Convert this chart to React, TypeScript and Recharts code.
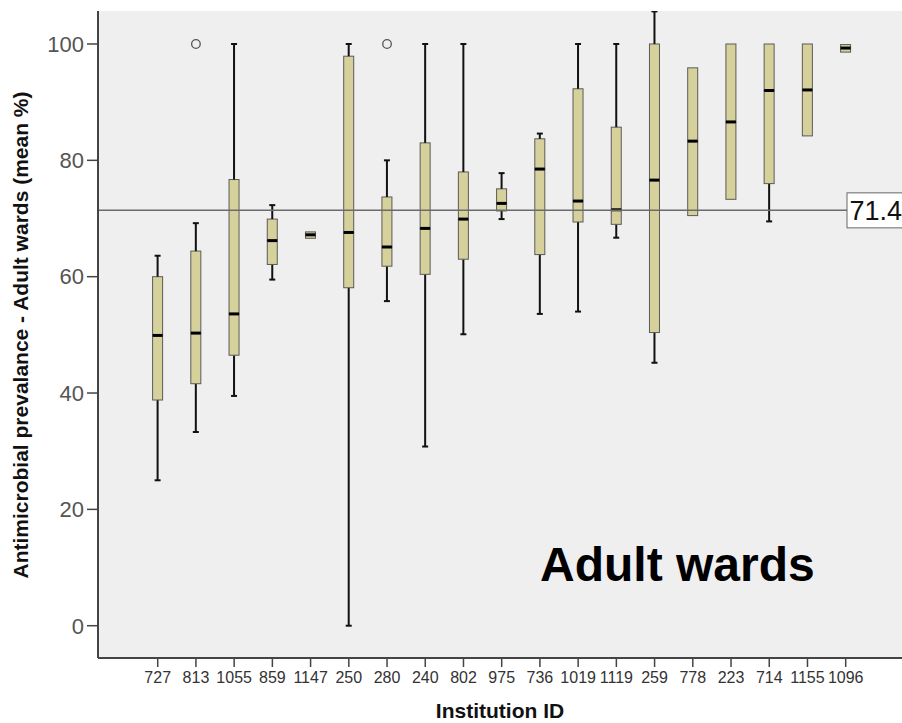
import React from 'react';
import {
  ComposedChart,
  Bar,
  Scatter,
  XAxis,
  YAxis,
  CartesianGrid,
  ReferenceLine,
} from 'recharts';

// institution ids, in the order they appear on the axis
const categories = ['727', '813', '1055', '859', '1147', '250', '280', '240', '802', '975', '736', '1019', '1119', '259', '778', '223', '714', '1155', '1096'];

// five-number summaries (% prevalence)
const whiskerLow = [25.0, 33.3, 39.5, 59.5, 66.6, 0, 55.8, 30.8, 50.1, 69.9, 53.6, 54.0, 66.7, 45.2, 70.5, 73.3, 69.5, 84.2, 98.6];
const q1 = [38.8, 41.6, 46.5, 62.1, 66.6, 58.1, 61.8, 60.4, 63.0, 71.3, 63.8, 69.4, 69.0, 50.4, 70.5, 73.3, 76.0, 84.2, 98.6];
const median = [49.9, 50.3, 53.6, 66.2, 67.2, 67.6, 65.1, 68.3, 69.9, 72.6, 78.5, 73.0, 71.5, 76.6, 83.3, 86.6, 92.0, 92.1, 99.3];
const q3 = [60.0, 64.4, 76.7, 69.9, 67.7, 97.9, 73.7, 83.0, 78.0, 75.1, 83.7, 92.3, 85.7, 100, 95.9, 100, 100, 100, 99.9];
const whiskerHigh = [63.6, 69.2, 100, 72.3, 67.7, 100, 80.0, 100, 100, 77.8, 84.6, 100, 100, 105.6, 95.9, 100, 100, 100, 99.9];
const outliers: (number | null)[] = [null, 100, null, null, null, null, 100, null, null, null, null, null, null, null, null, null, null, null, null];

const yTicks = [0, 20, 40, 60, 80, 100];
const overallMean = 71.4;

const data = categories.map((name, i) => ({
  name,
  base: whiskerLow[i],
  lowW: q1[i] - whiskerLow[i],
  lowBox: median[i] - q1[i],
  highBox: q3[i] - median[i],
  highW: whiskerHigh[i] - q3[i],
  outlier: outliers[i],
}));

const FONT = '"Liberation Sans", Arial, sans-serif';
const BOX_FILL = '#d6d19b';
const BOX_STROKE = '#5a5a5a';

const LowWhisker = (p: any) => {
  if (!p.height || p.height < 0.5) return <g />;
  const cx = p.x + p.width / 2;
  const bottom = p.y + p.height;
  return (
    <g>
      <line x1={cx} x2={cx} y1={p.y} y2={bottom} stroke="#111" strokeWidth={2} />
      <line x1={cx - 3} x2={cx + 3} y1={bottom} y2={bottom} stroke="#111" strokeWidth={2} />
    </g>
  );
};

const HighWhisker = (p: any) => {
  if (!p.height || p.height < 0.5) return <g />;
  const cx = p.x + p.width / 2;
  return (
    <g>
      <line x1={cx} x2={cx} y1={p.y} y2={p.y + p.height} stroke="#111" strokeWidth={2} />
      <line x1={cx - 3} x2={cx + 3} y1={p.y} y2={p.y} stroke="#111" strokeWidth={2} />
    </g>
  );
};

const LowBox = (p: any) => (
  <rect x={p.x} y={p.y} width={p.width} height={Math.max(p.height, 0)} fill={BOX_FILL} stroke={BOX_STROKE} strokeWidth={1} />
);

// upper half of the box; its bottom edge is the median
const HighBox = (p: any) => (
  <g>
    <rect x={p.x} y={p.y} width={p.width} height={Math.max(p.height, 0)} fill={BOX_FILL} stroke={BOX_STROKE} strokeWidth={1} />
    <line x1={p.x} x2={p.x + p.width} y1={p.y + p.height} y2={p.y + p.height} stroke="#000" strokeWidth={3} />
  </g>
);

const Outlier = (p: any) => {
  if (p.payload == null || p.payload.outlier == null) return <g />;
  return <circle cx={p.cx} cy={p.cy} r={4.3} fill="none" stroke="#555" strokeWidth={1.3} />;
};

const MeanLabel = (props: any) => {
  const vb = props.viewBox;
  const x = vb.x + vb.width - 55;
  return (
    <g>
      <rect x={x} y={vb.y - 17.5} width={70} height={35} fill="#fff" stroke="#666" strokeWidth={1} />
      <text x={x + 2.5} y={vb.y + 1} dominantBaseline="central" fontSize={27} fill="#111" fontFamily={FONT}>
        {overallMean}
      </text>
    </g>
  );
};

const XTitle = (props: any) => {
  const vb = props.viewBox;
  return (
    <text x={vb.x + vb.width / 2} y={718} textAnchor="middle" fontSize={21} fontWeight="bold" fill="#111" fontFamily={FONT}>
      Institution ID
    </text>
  );
};

const YTitle = () => (
  <text x={28} y={335} transform="rotate(-90 28 335)" textAnchor="middle" fontSize={21} fontWeight="bold" fill="#111" fontFamily={FONT}>
    Antimicrobial prevalance - Adult wards (mean %)
  </text>
);

export default function App() {
  return (
    <div style={{ position: 'fixed', top: 0, left: 0, width: 902, height: 723, background: '#fff', fontFamily: FONT }}>
      <ComposedChart width={902} height={723} data={data} margin={{ top: 11, right: 0, bottom: 0, left: 0 }}>
        <CartesianGrid horizontal={false} vertical={false} fill="#efefef" />
        <XAxis
          dataKey="name"
          type="category"
          interval={0}
          height={65}
          padding={{ left: 40.6, right: 37.2 }}
          axisLine={{ stroke: '#444', strokeWidth: 2 }}
          tickLine={{ stroke: '#444', strokeWidth: 1.5 }}
          tickSize={9}
          tickMargin={5}
          tick={{ fontSize: 16, fill: '#333', fontFamily: FONT }}
          label={<XTitle />}
        />
        <XAxis
          xAxisId="top"
          dataKey="name"
          orientation="top"
          height={0}
          tick={false}
          tickLine={false}
          axisLine={{ stroke: '#777', strokeWidth: 2 }}
        />
        <YAxis
          type="number"
          width={98}
          domain={[-5.55, 105.67]}
          ticks={yTicks}
          allowDataOverflow
          axisLine={{ stroke: '#444', strokeWidth: 2 }}
          tickLine={{ stroke: '#444', strokeWidth: 1.5 }}
          tickSize={11}
          tickMargin={3}
          tick={{ fontSize: 22, fill: '#555', fontFamily: FONT }}
          label={<YTitle />}
        />
        <ReferenceLine y={overallMean} stroke="#6b6b6b" strokeWidth={1.5} label={<MeanLabel />} />
        <Bar dataKey="base" stackId="box" barSize={10} fill="none" isAnimationActive={false} />
        <Bar dataKey="lowW" stackId="box" barSize={10} shape={<LowWhisker />} isAnimationActive={false} />
        <Bar dataKey="lowBox" stackId="box" barSize={10} shape={<LowBox />} isAnimationActive={false} />
        <Bar dataKey="highBox" stackId="box" barSize={10} shape={<HighBox />} isAnimationActive={false} />
        <Bar dataKey="highW" stackId="box" barSize={10} shape={<HighWhisker />} isAnimationActive={false} />
        <Scatter dataKey="outlier" shape={<Outlier />} isAnimationActive={false} />
        <text x={540} y={581} fontSize={48} fontWeight="bold" fill="#000" fontFamily={FONT}>
          Adult wards
        </text>
      </ComposedChart>
    </div>
  );
}
